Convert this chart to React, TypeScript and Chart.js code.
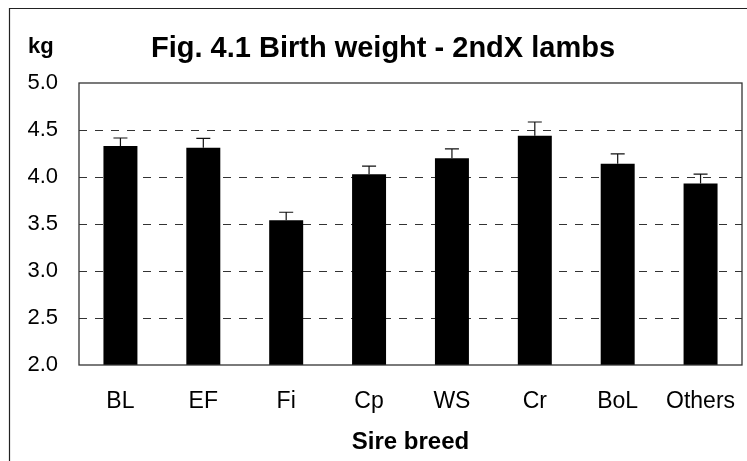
import React, { useEffect, useRef } from 'react';
import { Chart, registerables } from 'chart.js';

Chart.register(...registerables);

// ---- data ----
const categories = ['BL', 'EF', 'Fi', 'Cp', 'WS', 'Cr', 'BoL', 'Others'];
const birthWeight = [4.33, 4.31, 3.54, 4.03, 4.2, 4.44, 4.14, 3.93];
const errorUp = [0.085, 0.1, 0.085, 0.085, 0.1, 0.145, 0.105, 0.1];
const yMin = 2.0;
const yMax = 5.0;
const yStep = 0.5;
const titleText = 'Fig. 4.1 Birth weight - 2ndX lambs';
const yUnitText = 'kg';
const xTitleText = 'Sire breed';

const FONT = "'Liberation Sans', Arial, Helvetica, sans-serif";

const decorPlugin = {
  id: 'decor',
  afterDatasetsDraw(chart: any) {
    const { ctx, scales } = chart;
    const x = scales.x;
    const y = scales.y;
    ctx.save();
    ctx.strokeStyle = '#111';
    ctx.lineWidth = 1.2;
    birthWeight.forEach((v, i) => {
      const px = x.getPixelForValue(i);
      const top = y.getPixelForValue(v + errorUp[i]);
      const base = y.getPixelForValue(v);
      ctx.beginPath();
      ctx.moveTo(px, base);
      ctx.lineTo(px, top);
      ctx.moveTo(px - 7, top);
      ctx.lineTo(px + 7, top);
      ctx.stroke();
    });
    ctx.restore();
  },
  afterDraw(chart: any) {
    const { ctx, chartArea } = chart;
    ctx.save();
    // plot area frame
    ctx.strokeStyle = '#333';
    ctx.lineWidth = 1.3;
    ctx.strokeRect(chartArea.left, chartArea.top, chartArea.right - chartArea.left, chartArea.bottom - chartArea.top);
    // outer frame (top and left edges visible)
    ctx.lineWidth = 1.2;
    ctx.strokeStyle = '#222';
    ctx.beginPath();
    ctx.moveTo(9.5, chart.height + 2);
    ctx.lineTo(9.5, 8.5);
    ctx.lineTo(chart.width + 2, 8.5);
    ctx.stroke();
    // title
    ctx.fillStyle = '#000';
    ctx.textBaseline = 'alphabetic';
    ctx.textAlign = 'center';
    ctx.font = `bold 29px ${FONT}`;
    ctx.fillText(titleText, 383, 57);
    // unit label
    ctx.textAlign = 'left';
    ctx.font = `bold 22px ${FONT}`;
    ctx.fillText(yUnitText, 28, 53);
    ctx.restore();
  },
};

export default function App() {
  const canvasRef = useRef<HTMLCanvasElement | null>(null);

  useEffect(() => {
    const canvas = canvasRef.current;
    if (!canvas) return;
    const chart = new Chart(canvas, {
      type: 'bar',
      data: {
        labels: categories,
        datasets: [
          {
            data: birthWeight,
            backgroundColor: '#000',
            borderWidth: 0,
            barPercentage: 0.41,
            categoryPercentage: 1.0,
          },
        ],
      },
      options: {
        animation: false,
        responsive: false,
        devicePixelRatio: 1,
        layout: { padding: { top: 83, right: 5, left: 0, bottom: 0 } },
        plugins: {
          legend: { display: false },
          tooltip: { enabled: false },
          title: { display: false },
        },
        scales: {
          x: {
            offset: true,
            grid: { display: false, drawTicks: false },
            border: { display: false },
            ticks: {
              color: '#000',
              padding: 23,
              font: { family: FONT, size: 23 },
            },
            title: {
              display: true,
              text: xTitleText,
              color: '#000',
              font: { family: FONT, size: 24, weight: 'bold' },
              padding: { top: 0, bottom: 4 },
            },
            afterFit(scale: any) {
              scale.height = 96;
              scale.paddingLeft = 0;
              scale.paddingRight = 0;
            },
          },
          y: {
            min: yMin,
            max: yMax,
            ticks: {
              stepSize: yStep,
              color: '#000',
              padding: 21,
              font: { family: FONT, size: 22 },
              callback: (v: any) => Number(v).toFixed(1),
            },
            grid: {
              drawTicks: false,
              color: (c: any) =>
                c.tick && (c.tick.value === yMin || c.tick.value === yMax) ? 'rgba(0,0,0,0)' : '#333',
              lineWidth: 1,
            },
            border: { display: false, dash: [8, 8] },
            afterFit(scale: any) {
              scale.width = 79;
              scale.paddingTop = 0;
              scale.paddingBottom = 0;
            },
          },
        },
      },
      plugins: [decorPlugin],
    });
    return () => chart.destroy();
  }, []);

  return (
    <div style={{ position: 'fixed', left: 0, top: 0, width: 747, height: 461, background: '#fff' }}>
      <canvas ref={canvasRef} width={747} height={461} style={{ width: 747, height: 461, display: 'block' }} />
    </div>
  );
}
